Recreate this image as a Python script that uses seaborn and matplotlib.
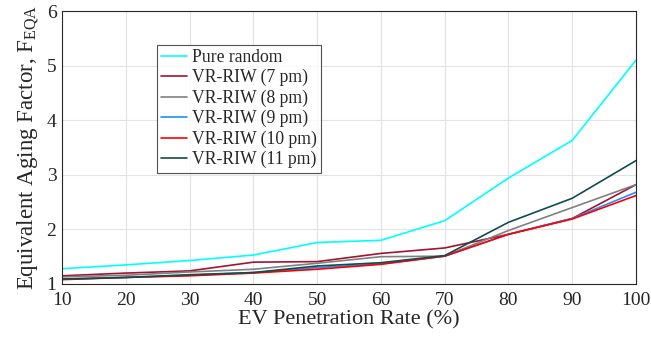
import numpy as np
import pandas as pd
import matplotlib
matplotlib.use("Agg")
import matplotlib.pyplot as plt
import seaborn as sns

x = [10, 20, 30, 40, 50, 60, 70, 80, 90, 100]
pure_random = [1.28, 1.35, 1.43, 1.53, 1.76, 1.80, 2.16, 2.94, 3.63, 5.10]
riw_7pm = [1.15, 1.20, 1.24, 1.40, 1.41, 1.56, 1.66, 1.91, 2.20, 2.82]
riw_8pm = [1.13, 1.16, 1.22, 1.27, 1.38, 1.50, 1.51, 1.98, 2.40, 2.82]
riw_9pm = [1.09, 1.12, 1.16, 1.21, 1.30, 1.37, 1.51, 1.91, 2.20, 2.68]
riw_10pm = [1.08, 1.12, 1.15, 1.20, 1.27, 1.36, 1.51, 1.91, 2.19, 2.62]
riw_11pm = [1.09, 1.12, 1.17, 1.21, 1.33, 1.39, 1.52, 2.13, 2.57, 3.26]

names = ["Pure random", "VR-RIW (7 pm)", "VR-RIW (8 pm)", "VR-RIW (9 pm)",
         "VR-RIW (10 pm)", "VR-RIW (11 pm)"]
series = [pure_random, riw_7pm, riw_8pm, riw_9pm, riw_10pm, riw_11pm]
colors = ["#00FFFF", "#A2142F", "#808080", "#1E90FF", "#FF0000", "#0F4D4D"]

df = pd.concat([pd.DataFrame({"x": x, "y": s, "series": n}) for n, s in zip(names, series)])

sns.set_style("white")
plt.rcParams["font.family"] = ["Liberation Serif", "DejaVu Serif"]
plt.rcParams["mathtext.fontset"] = "custom"
plt.rcParams["mathtext.rm"] = "Liberation Serif"
plt.rcParams["mathtext.it"] = "Liberation Serif"

fig = plt.figure(figsize=(6.51, 3.41), dpi=100)
ax = fig.add_axes([62/651, 1 - 284/341, 574/651, 273/341])
sns.lineplot(data=df, x="x", y="y", hue="series", palette=dict(zip(names, colors)),
             hue_order=names, ax=ax, linewidth=1.2, legend=True)

ax.set_xlim(10, 100)
ax.set_ylim(1, 6)
ax.set_xticks(x)
ax.set_yticks([1, 2, 3, 4, 5, 6])
ax.grid(True, color="#e3e3e3", linewidth=0.8)
ax.tick_params(direction="in", labelsize=14, length=4, color="#262626", top=False, right=False)
ax.tick_params(axis="x", pad=6)
ax.tick_params(axis="y", pad=4)
for s in ax.spines.values():
    s.set_color("#262626")
    s.set_linewidth(0.8)
ax.set_xlabel("EV Penetration Rate (%)", fontsize=16, labelpad=1)
ax.set_ylabel("Equivalent Aging Factor, F$_{\\mathrm{EQA}}$", fontsize=16.5, labelpad=4)

leg = ax.legend(loc="upper left", bbox_to_anchor=(0.165, 0.877), fontsize=12.7,
                frameon=True, fancybox=False, edgecolor="#262626", handlelength=1.45,
                handletextpad=0.3, borderpad=0.25, labelspacing=0.18, borderaxespad=0)
leg.get_frame().set_linewidth(0.8)

fig.savefig("out.png", dpi=100)
